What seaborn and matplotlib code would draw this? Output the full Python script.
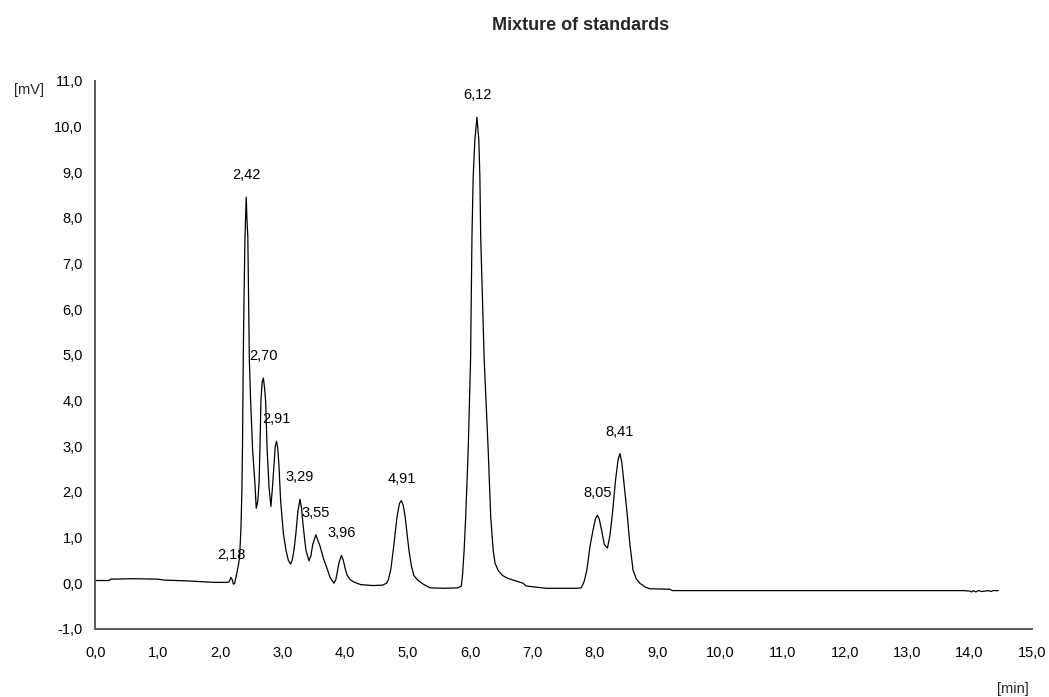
import matplotlib
matplotlib.use("Agg")
import matplotlib.pyplot as plt
import seaborn as sns
import pandas as pd

# chromatogram trace (time in min, signal in mV)
time_min = [
    0.00, 0.22, 0.24, 0.60, 1.00, 1.10, 1.50, 1.90, 2.10, 2.14, 2.17, 2.19, 2.21, 2.23,
    2.26, 2.29, 2.31, 2.33, 2.345, 2.355, 2.367, 2.38, 2.395, 2.415, 2.425, 2.44, 2.45,
    2.46, 2.465, 2.485, 2.517, 2.554, 2.575, 2.60, 2.62, 2.634, 2.65, 2.67, 2.69, 2.71,
    2.725, 2.75, 2.78, 2.81, 2.835, 2.86, 2.88, 2.90, 2.92, 2.94, 2.965, 3.01, 3.05,
    3.09, 3.125, 3.15, 3.18, 3.21, 3.24, 3.275, 3.30, 3.32, 3.34, 3.37, 3.42, 3.45,
    3.48, 3.53, 3.56, 3.60, 3.65, 3.70, 3.76, 3.82, 3.85, 3.87, 3.90, 3.94, 3.97, 4.00,
    4.03, 4.08, 4.15, 4.25, 4.45, 4.60, 4.66, 4.69, 4.73, 4.77, 4.80, 4.83, 4.87, 4.90,
    4.93, 4.96, 4.99, 5.02, 5.06, 5.10, 5.16, 5.25, 5.36, 5.60, 5.80, 5.86, 5.88, 5.905,
    5.93, 5.97, 6.008, 6.03, 6.05, 6.077, 6.11, 6.14, 6.157, 6.17, 6.226, 6.29, 6.33,
    6.37, 6.40, 6.45, 6.52, 6.60, 6.69, 6.85, 6.90, 7.22, 7.70, 7.78, 7.83, 7.87, 7.92,
    7.97, 8.01, 8.04, 8.07, 8.105, 8.15, 8.20, 8.24, 8.28, 8.33, 8.37, 8.40, 8.43, 8.46,
    8.515, 8.56, 8.61, 8.66, 8.72, 8.80, 8.88, 9.20, 9.24, 10.0, 12.0, 13.9, 14.0,
    14.03, 14.06, 14.10, 14.14, 14.20, 14.30, 14.34, 14.38, 14.46,
]
signal_mv = [
    0.06, 0.06, 0.09, 0.10, 0.09, 0.07, 0.05, 0.02, 0.02, 0.03, 0.13, 0.08, -0.02, 0.00,
    0.20, 0.40, 0.60, 1.20, 2.00, 3.00, 4.88, 6.30, 7.60, 8.45, 8.00, 7.60, 6.50,
    5.50, 4.88, 4.00, 2.92, 2.19, 1.64, 1.80, 2.19, 2.92, 4.00, 4.40, 4.49, 4.25,
    4.00, 2.92, 2.10, 1.68, 2.10, 2.60, 3.00, 3.11, 2.95, 2.55, 1.82, 1.09, 0.73,
    0.50, 0.42, 0.50, 0.73, 1.09, 1.55, 1.84, 1.65, 1.35, 1.09, 0.73, 0.49, 0.60,
    0.85, 1.06, 0.95, 0.80, 0.55, 0.36, 0.12, 0.00, 0.08, 0.22, 0.45, 0.61, 0.50, 0.32,
    0.18, 0.08, 0.02, -0.03, -0.05, -0.04, 0.00, 0.07, 0.30, 0.73, 1.09, 1.46, 1.75, 1.81,
    1.70, 1.46, 1.09, 0.73, 0.38, 0.17, 0.07, -0.02, -0.10, -0.11, -0.10, -0.06, 0.20, 0.73,
    1.46, 2.92, 4.90, 7.58, 8.90, 9.70, 10.20, 9.70, 8.90, 7.58, 4.90, 2.92, 1.46,
    0.73, 0.44, 0.28, 0.17, 0.11, 0.07, 0.00, -0.06, -0.11, -0.11, -0.10, 0.05, 0.29, 0.80,
    1.17, 1.42, 1.49, 1.40, 1.17, 0.85, 0.77, 1.05, 1.53, 2.26, 2.70, 2.84, 2.65, 2.26,
    1.53, 0.85, 0.29, 0.10, 0.00, -0.08, -0.12, -0.13, -0.16, -0.16, -0.16, -0.16, -0.17,
    -0.19, -0.16, -0.19, -0.16, -0.18, -0.16, -0.18, -0.16, -0.16,
]

# labelled peaks
peak_times = [2.17, 2.415, 2.69, 2.90, 3.275, 3.53, 3.94, 4.90, 6.11, 8.04, 8.40]
peak_heights = [0.13, 8.45, 4.49, 3.11, 1.84, 1.06, 0.61, 1.81, 10.20, 1.49, 2.84]
peak_labels = ["2,18", "2,42", "2,70", "2,91", "3,29", "3,55", "3,96", "4,91", "6,12", "8,05", "8,41"]

x_ticks = list(range(0, 16))
x_tick_labels = [f"{v},0" for v in x_ticks]
y_ticks = list(range(-1, 12))
y_tick_labels = [f"{v},0" for v in y_ticks]

sns.set_theme(style="white")
plt.rcParams["font.family"] = ["Liberation Sans", "DejaVu Sans"]

df = pd.DataFrame({"time": time_min, "signal": signal_mv})

fig = plt.figure(figsize=(10.49, 6.97), dpi=100)
ax = fig.add_axes([0.091, 0.0976, 0.8928, 0.7867])

sns.lineplot(data=df, x="time", y="signal", ax=ax, color="black",
             linewidth=0.9, sort=False, estimator=None)

for t, h, lab in zip(peak_times, peak_heights, peak_labels):
    ax.annotate(lab, xy=(t, h), xytext=(0, 22), textcoords="offset pixels",
                ha="center", va="center", fontsize=10.5, color="black")

ax.set_xlim(0, 15)
ax.set_ylim(-1, 11)
ax.set_xticks(x_ticks)
ax.set_xticklabels(x_tick_labels)
ax.set_yticks(y_ticks)
ax.set_yticklabels(y_tick_labels)
ax.set_xlabel("")
ax.set_ylabel("")

for side in ["top", "right"]:
    ax.spines[side].set_visible(False)
for side in ["left", "bottom"]:
    ax.spines[side].set_color("#5a5a5a")
    ax.spines[side].set_linewidth(1.4)

ax.tick_params(axis="both", which="major", direction="out", length=4,
               width=1.2, color="#5a5a5a", labelsize=10.5, labelcolor="black")
ax.tick_params(axis="x", pad=8)
ax.tick_params(axis="y", pad=5)
ax.grid(False)

fig.text(0.553, 0.964, "Mixture of standards", ha="center", va="center",
         fontsize=13, fontweight="bold")
fig.text(0.028, 0.871, "[mV]", ha="center", va="center", fontsize=10.5)
fig.text(0.966, 0.012, "[min]", ha="center", va="center", fontsize=10.5)

fig.savefig("out.png", dpi=100)
